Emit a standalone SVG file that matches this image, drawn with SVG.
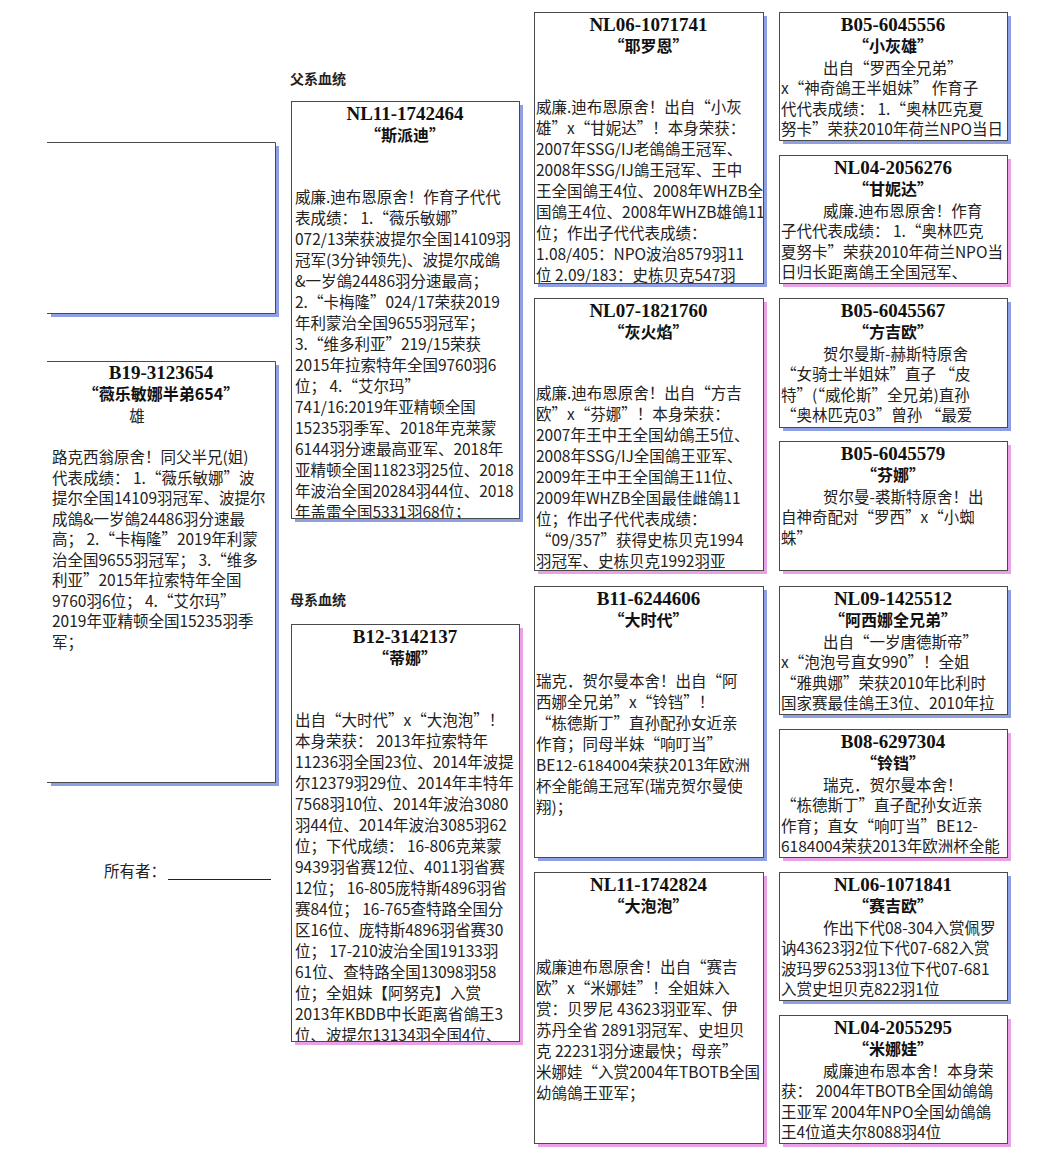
<svg xmlns="http://www.w3.org/2000/svg" width="1059" height="1163" viewBox="0 0 1059 1163">
<style>
.bg{fill:#fff}
.box{fill:#fff;stroke:#4a4a4a;stroke-width:1}
.edge{fill:none;stroke:#4a4a4a;stroke-width:1}
.shb{fill:#8e9fe4}
.shp{fill:#e9a1e5}
.t{font-family:"Liberation Serif","Noto Sans CJK SC",serif;font-weight:bold;font-size:19px;text-anchor:middle;fill:#111}
.n{font-family:"Noto Sans CJK SC",sans-serif;font-weight:bold;font-size:16px;text-anchor:middle;fill:#111}
.b{font-family:"Noto Sans CJK SC",sans-serif;font-size:15.5px;fill:#222}
.lab{font-family:"Noto Sans CJK SC",sans-serif;font-weight:bold;font-size:14px;fill:#222}
</style>
<defs>
<clipPath id="cL" clipPathUnits="userSpaceOnUse"><rect x="0" y="0" width="228" height="421"/></clipPath>
<clipPath id="c2" clipPathUnits="userSpaceOnUse"><rect x="0" y="0" width="228" height="417"/></clipPath>
<clipPath id="c3" clipPathUnits="userSpaceOnUse"><rect x="0" y="0" width="229" height="271"/></clipPath>
<clipPath id="c4" clipPathUnits="userSpaceOnUse"><rect x="0" y="0" width="228" height="128"/></clipPath>
</defs>
<rect class="bg" x="0" y="0" width="1059" height="1163"/>

<g id="connectors"/>

<!-- Left column -->
<g id="n-empty" transform="translate(47,142)">
<rect class="shb" x="4" y="4" width="228" height="171"/>
<rect class="bg" x="0" y="0" width="228" height="171"/>
<path class="edge" d="M0,0.5 H228.5 V171.5 H0"/>
</g>

<g id="n-B19-3123654" transform="translate(47,361)">
<rect class="shb" x="4" y="4" width="228" height="421"/>
<rect class="bg" x="0" y="0" width="228" height="421"/>
<path class="edge" d="M0,0.5 H228.5 V421.5 H0"/>
<g clip-path="url(#cL)">
<text class="t" x="114" y="18">B19-3123654</text>
<text class="n" x="114" y="39">“薇乐敏娜半弟654”</text>
<text class="b" x="90" y="60.5" text-anchor="middle">雄</text>
<text class="b" y="102">
<tspan x="5">路克西翁原舍！同父半兄(姐)</tspan>
<tspan x="5" dy="20.5">代表成绩： 1.“薇乐敏娜”波</tspan>
<tspan x="5" dy="20.5">提尔全国14109羽冠军、波提尔</tspan>
<tspan x="5" dy="20.5">成鴿&amp;一岁鴿24486羽分速最</tspan>
<tspan x="5" dy="20.5">高； 2.“卡梅隆”2019年利蒙</tspan>
<tspan x="5" dy="20.5">治全国9655羽冠军； 3.“维多</tspan>
<tspan x="5" dy="20.5">利亚”2015年拉索特年全国</tspan>
<tspan x="5" dy="20.5">9760羽6位； 4.“艾尔玛”</tspan>
<tspan x="5" dy="20.5">2019年亚精顿全国15235羽季</tspan>
<tspan x="5" dy="20.5">军；</tspan>
</text>
</g>
</g>

<g id="owner">
<text class="b" x="104" y="877">所有者：</text>
<line x1="168" y1="879.5" x2="271" y2="879.5" stroke="#222" stroke-width="1"/>
</g>

<!-- Column 2 -->
<text class="lab" x="290" y="84">父系血统</text>
<g id="n-NL11-1742464" transform="translate(291,101)">
<rect class="shb" x="4" y="4" width="228" height="417"/>
<rect class="box" x="0.5" y="0.5" width="228" height="417"/>
<g clip-path="url(#c2)">
<text class="t" x="114" y="18.5">NL11-1742464</text>
<text class="n" x="114" y="39.5">“斯派迪”</text>
<text class="b" y="102">
<tspan x="4">威廉.迪布恩原舍！作育子代代</tspan>
<tspan x="4" dy="21">表成绩： 1.“薇乐敏娜”</tspan>
<tspan x="4" dy="21">072/13荣获波提尔全国14109羽</tspan>
<tspan x="4" dy="21">冠军(3分钟领先)、波提尔成鴿</tspan>
<tspan x="4" dy="21">&amp;一岁鴿24486羽分速最高；</tspan>
<tspan x="4" dy="21">2.“卡梅隆”024/17荣获2019</tspan>
<tspan x="4" dy="21">年利蒙治全国9655羽冠军；</tspan>
<tspan x="4" dy="21">3.“维多利亚”219/15荣获</tspan>
<tspan x="4" dy="21">2015年拉索特年全国9760羽6</tspan>
<tspan x="4" dy="21">位； 4.“艾尔玛”</tspan>
<tspan x="4" dy="21">741/16:2019年亚精顿全国</tspan>
<tspan x="4" dy="21">15235羽季军、2018年克莱蒙</tspan>
<tspan x="4" dy="21">6144羽分速最高亚军、2018年</tspan>
<tspan x="4" dy="21">亚精顿全国11823羽25位、2018</tspan>
<tspan x="4" dy="21">年波治全国20284羽44位、2018</tspan>
<tspan x="4" dy="21">年盖雷全国5331羽68位；</tspan>
</text>
</g>
</g>

<text class="lab" x="290" y="605">母系血统</text>
<g id="n-B12-3142137" transform="translate(291,624)">
<rect class="shp" x="4" y="4" width="228" height="417"/>
<rect class="box" x="0.5" y="0.5" width="228" height="417"/>
<g clip-path="url(#c2)">
<text class="t" x="114" y="18.5">B12-3142137</text>
<text class="n" x="114" y="39.5">“蒂娜”</text>
<text class="b" y="102">
<tspan x="4">出自“大时代”x“大泡泡”！</tspan>
<tspan x="4" dy="21">本身荣获： 2013年拉索特年</tspan>
<tspan x="4" dy="21">11236羽全国23位、2014年波提</tspan>
<tspan x="4" dy="21">尔12379羽29位、2014年丰特年</tspan>
<tspan x="4" dy="21">7568羽10位、2014年波治3080</tspan>
<tspan x="4" dy="21">羽44位、2014年波治3085羽62</tspan>
<tspan x="4" dy="21">位；下代成绩： 16-806克莱蒙</tspan>
<tspan x="4" dy="21">9439羽省赛12位、4011羽省赛</tspan>
<tspan x="4" dy="21">12位； 16-805庞特斯4896羽省</tspan>
<tspan x="4" dy="21">赛84位； 16-765查特路全国分</tspan>
<tspan x="4" dy="21">区16位、庞特斯4896羽省赛30</tspan>
<tspan x="4" dy="21">位； 17-210波治全国19133羽</tspan>
<tspan x="4" dy="21">61位、查特路全国13098羽58</tspan>
<tspan x="4" dy="21">位；全姐妹【阿努克】入赏</tspan>
<tspan x="4" dy="21">2013年KBDB中长距离省鴿王3</tspan>
<tspan x="4" dy="21">位、波提尔13134羽全国4位、</tspan>
</text>
</g>
</g>

<!-- Column 3 -->
<g id="n-NL06-1071741" transform="translate(534,12)">
<rect class="shb" x="4" y="4" width="229" height="271"/>
<rect class="box" x="0.5" y="0.5" width="229" height="271"/>
<g clip-path="url(#c3)">
<text class="t" x="114.5" y="18.5">NL06-1071741</text>
<text class="n" x="114.5" y="39.5">“耶罗恩”</text>
<text class="b" y="100.5">
<tspan x="2">威廉.迪布恩原舍！出自“小灰</tspan>
<tspan x="2" dy="21">雄”x“甘妮达”！本身荣获：</tspan>
<tspan x="2" dy="21">2007年SSG/IJ老鴿鴿王冠军、</tspan>
<tspan x="2" dy="21">2008年SSG/IJ鴿王冠军、王中</tspan>
<tspan x="2" dy="21">王全国鴿王4位、2008年WHZB全</tspan>
<tspan x="2" dy="21">国鴿王4位、2008年WHZB雄鴿11</tspan>
<tspan x="2" dy="21">位；作出子代代表成绩：</tspan>
<tspan x="2" dy="21">1.08/405：NPO波治8579羽11</tspan>
<tspan x="2" dy="21">位 2.09/183：史栋贝克547羽</tspan>
</text>
</g>
</g>

<g id="n-NL07-1821760" transform="translate(534,298)">
<rect class="shp" x="4" y="4" width="229" height="272"/>
<rect class="box" x="0.5" y="0.5" width="229" height="272"/>
<g clip-path="url(#c3)">
<text class="t" x="114.5" y="18.5">NL07-1821760</text>
<text class="n" x="114.5" y="39.5">“灰火焰”</text>
<text class="b" y="100.5">
<tspan x="2">威廉.迪布恩原舍！出自“方吉</tspan>
<tspan x="2" dy="21">欧”x“芬娜”！本身荣获：</tspan>
<tspan x="2" dy="21">2007年王中王全国幼鴿王5位、</tspan>
<tspan x="2" dy="21">2008年SSG/IJ全国鴿王亚军、</tspan>
<tspan x="2" dy="21">2009年王中王全国鴿王11位、</tspan>
<tspan x="2" dy="21">2009年WHZB全国最佳雌鴿11</tspan>
<tspan x="2" dy="21">位；作出子代代表成绩：</tspan>
<tspan x="2" dy="21">“09/357”获得史栋贝克1994</tspan>
<tspan x="2" dy="21">羽冠军、史栋贝克1992羽亚</tspan>
</text>
</g>
</g>

<g id="n-B11-6244606" transform="translate(534,586)">
<rect class="shb" x="4" y="4" width="229" height="271"/>
<rect class="box" x="0.5" y="0.5" width="229" height="271"/>
<g clip-path="url(#c3)">
<text class="t" x="114.5" y="18.5">B11-6244606</text>
<text class="n" x="114.5" y="39.5">“大时代”</text>
<text class="b" y="100.5">
<tspan x="2">瑞克．贺尔曼本舍！出自“阿</tspan>
<tspan x="2" dy="21">西娜全兄弟”x“铃铛”！</tspan>
<tspan x="2" dy="21">“栋德斯丁”直孙配孙女近亲</tspan>
<tspan x="2" dy="21">作育；同母半妹“响叮当”</tspan>
<tspan x="2" dy="21">BE12-6184004荣获2013年欧洲</tspan>
<tspan x="2" dy="21">杯全能鴿王冠军(瑞克贺尔曼使</tspan>
<tspan x="2" dy="21">翔)；</tspan>
</text>
</g>
</g>

<g id="n-NL11-1742824" transform="translate(534,872)">
<rect class="shp" x="4" y="4" width="229" height="271"/>
<rect class="box" x="0.5" y="0.5" width="229" height="271"/>
<g clip-path="url(#c3)">
<text class="t" x="114.5" y="18.5">NL11-1742824</text>
<text class="n" x="114.5" y="39.5">“大泡泡”</text>
<text class="b" y="100.5">
<tspan x="2">威廉迪布恩原舍！出自“赛吉</tspan>
<tspan x="2" dy="21">欧”x“米娜娃”！全姐妹入</tspan>
<tspan x="2" dy="21">赏：贝罗尼 43623羽亚军、伊</tspan>
<tspan x="2" dy="21">苏丹全省 2891羽冠军、史坦贝</tspan>
<tspan x="2" dy="21">克 22231羽分速最快；母亲”</tspan>
<tspan x="2" dy="21">米娜娃“入赏2004年TBOTB全国</tspan>
<tspan x="2" dy="21">幼鴿鴿王亚军；</tspan>
</text>
</g>
</g>

<!-- Column 4 -->
<g id="n-B05-6045556" transform="translate(779,12)">
<rect class="shb" x="4" y="4" width="228" height="128"/>
<rect class="box" x="0.5" y="0.5" width="228" height="128"/>
<g clip-path="url(#c4)">
<text class="t" x="114" y="18.5">B05-6045556</text>
<text class="n" x="114" y="39.5">“小灰雄”</text>
<text class="b" y="61.5">
<tspan x="44">出自“罗西全兄弟”</tspan>
<tspan x="2" dy="20.6">x“神奇鴿王半姐妹” 作育子</tspan>
<tspan x="2" dy="20.6">代代表成绩： 1.“奥林匹克夏</tspan>
<tspan x="2" dy="20.6">努卡”荣获2010年荷兰NPO当日</tspan>
</text>
</g>
</g>

<g id="n-NL04-2056276" transform="translate(779,155)">
<rect class="shp" x="4" y="4" width="228" height="128"/>
<rect class="box" x="0.5" y="0.5" width="228" height="128"/>
<g clip-path="url(#c4)">
<text class="t" x="114" y="18.5">NL04-2056276</text>
<text class="n" x="114" y="39.5">“甘妮达”</text>
<text class="b" y="61.5">
<tspan x="44">威廉.迪布恩原舍！作育</tspan>
<tspan x="2" dy="20.6">子代代表成绩： 1.“奥林匹克</tspan>
<tspan x="2" dy="20.6">夏努卡”荣获2010年荷兰NPO当</tspan>
<tspan x="2" dy="20.6">日归长距离鴿王全国冠军、</tspan>
</text>
</g>
</g>

<g id="n-B05-6045567" transform="translate(779,298)">
<rect class="shb" x="4" y="4" width="228" height="129"/>
<rect class="box" x="0.5" y="0.5" width="228" height="129"/>
<g clip-path="url(#c4)">
<text class="t" x="114" y="18.5">B05-6045567</text>
<text class="n" x="114" y="39.5">“方吉欧”</text>
<text class="b" y="61.5">
<tspan x="44">贺尔曼斯-赫斯特原舍</tspan>
<tspan x="2" dy="20.6">“女骑士半姐妹”直子 “皮</tspan>
<tspan x="2" dy="20.6">特”(“威伦斯”全兄弟)直孙</tspan>
<tspan x="2" dy="20.6">“奥林匹克03”曾孙 “最爱</tspan>
</text>
</g>
</g>

<g id="n-B05-6045579" transform="translate(779,441)">
<rect class="shp" x="4" y="4" width="228" height="129"/>
<rect class="box" x="0.5" y="0.5" width="228" height="129"/>
<g clip-path="url(#c4)">
<text class="t" x="114" y="18.5">B05-6045579</text>
<text class="n" x="114" y="39.5">“芬娜”</text>
<text class="b" y="61.5">
<tspan x="44">贺尔曼-裘斯特原舍！出</tspan>
<tspan x="2" dy="20.6">自神奇配对“罗西”x“小蜘</tspan>
<tspan x="2" dy="20.6">蛛”</tspan>
</text>
</g>
</g>

<g id="n-NL09-1425512" transform="translate(779,586)">
<rect class="shb" x="4" y="4" width="228" height="128"/>
<rect class="box" x="0.5" y="0.5" width="228" height="128"/>
<g clip-path="url(#c4)">
<text class="t" x="114" y="18.5">NL09-1425512</text>
<text class="n" x="114" y="39.5">“阿西娜全兄弟”</text>
<text class="b" y="61.5">
<tspan x="44">出自“一岁唐德斯帝”</tspan>
<tspan x="2" dy="20.6">x“泡泡号直女990”！全姐</tspan>
<tspan x="2" dy="20.6">“雅典娜”荣获2010年比利时</tspan>
<tspan x="2" dy="20.6">国家赛最佳鴿王3位、2010年拉</tspan>
</text>
</g>
</g>

<g id="n-B08-6297304" transform="translate(779,729)">
<rect class="shp" x="4" y="4" width="228" height="128"/>
<rect class="box" x="0.5" y="0.5" width="228" height="128"/>
<g clip-path="url(#c4)">
<text class="t" x="114" y="18.5">B08-6297304</text>
<text class="n" x="114" y="39.5">“铃铛”</text>
<text class="b" y="61.5">
<tspan x="44">瑞克．贺尔曼本舍！</tspan>
<tspan x="2" dy="20.6">“栋德斯丁”直子配孙女近亲</tspan>
<tspan x="2" dy="20.6">作育；直女“响叮当”BE12-</tspan>
<tspan x="2" dy="20.6">6184004荣获2013年欧洲杯全能</tspan>
</text>
</g>
</g>

<g id="n-NL06-1071841" transform="translate(779,872)">
<rect class="shb" x="4" y="4" width="228" height="128"/>
<rect class="box" x="0.5" y="0.5" width="228" height="128"/>
<g clip-path="url(#c4)">
<text class="t" x="114" y="18.5">NL06-1071841</text>
<text class="n" x="114" y="39.5">“赛吉欧”</text>
<text class="b" y="61.5">
<tspan x="44">作出下代08-304入赏佩罗</tspan>
<tspan x="2" dy="20.6">讷43623羽2位下代07-682入赏</tspan>
<tspan x="2" dy="20.6">波玛罗6253羽13位下代07-681</tspan>
<tspan x="2" dy="20.6">入赏史坦贝克822羽1位</tspan>
</text>
</g>
</g>

<g id="n-NL04-2055295" transform="translate(779,1015)">
<rect class="shp" x="4" y="4" width="228" height="128"/>
<rect class="box" x="0.5" y="0.5" width="228" height="128"/>
<g clip-path="url(#c4)">
<text class="t" x="114" y="18.5">NL04-2055295</text>
<text class="n" x="114" y="39.5">“米娜娃”</text>
<text class="b" y="61.5">
<tspan x="44">威廉迪布恩本舍！本身荣</tspan>
<tspan x="2" dy="20.6">获： 2004年TBOTB全国幼鴿鴿</tspan>
<tspan x="2" dy="20.6">王亚军 2004年NPO全国幼鴿鴿</tspan>
<tspan x="2" dy="20.6">王4位道夫尔8088羽4位</tspan>
</text>
</g>
</g>
</svg>
